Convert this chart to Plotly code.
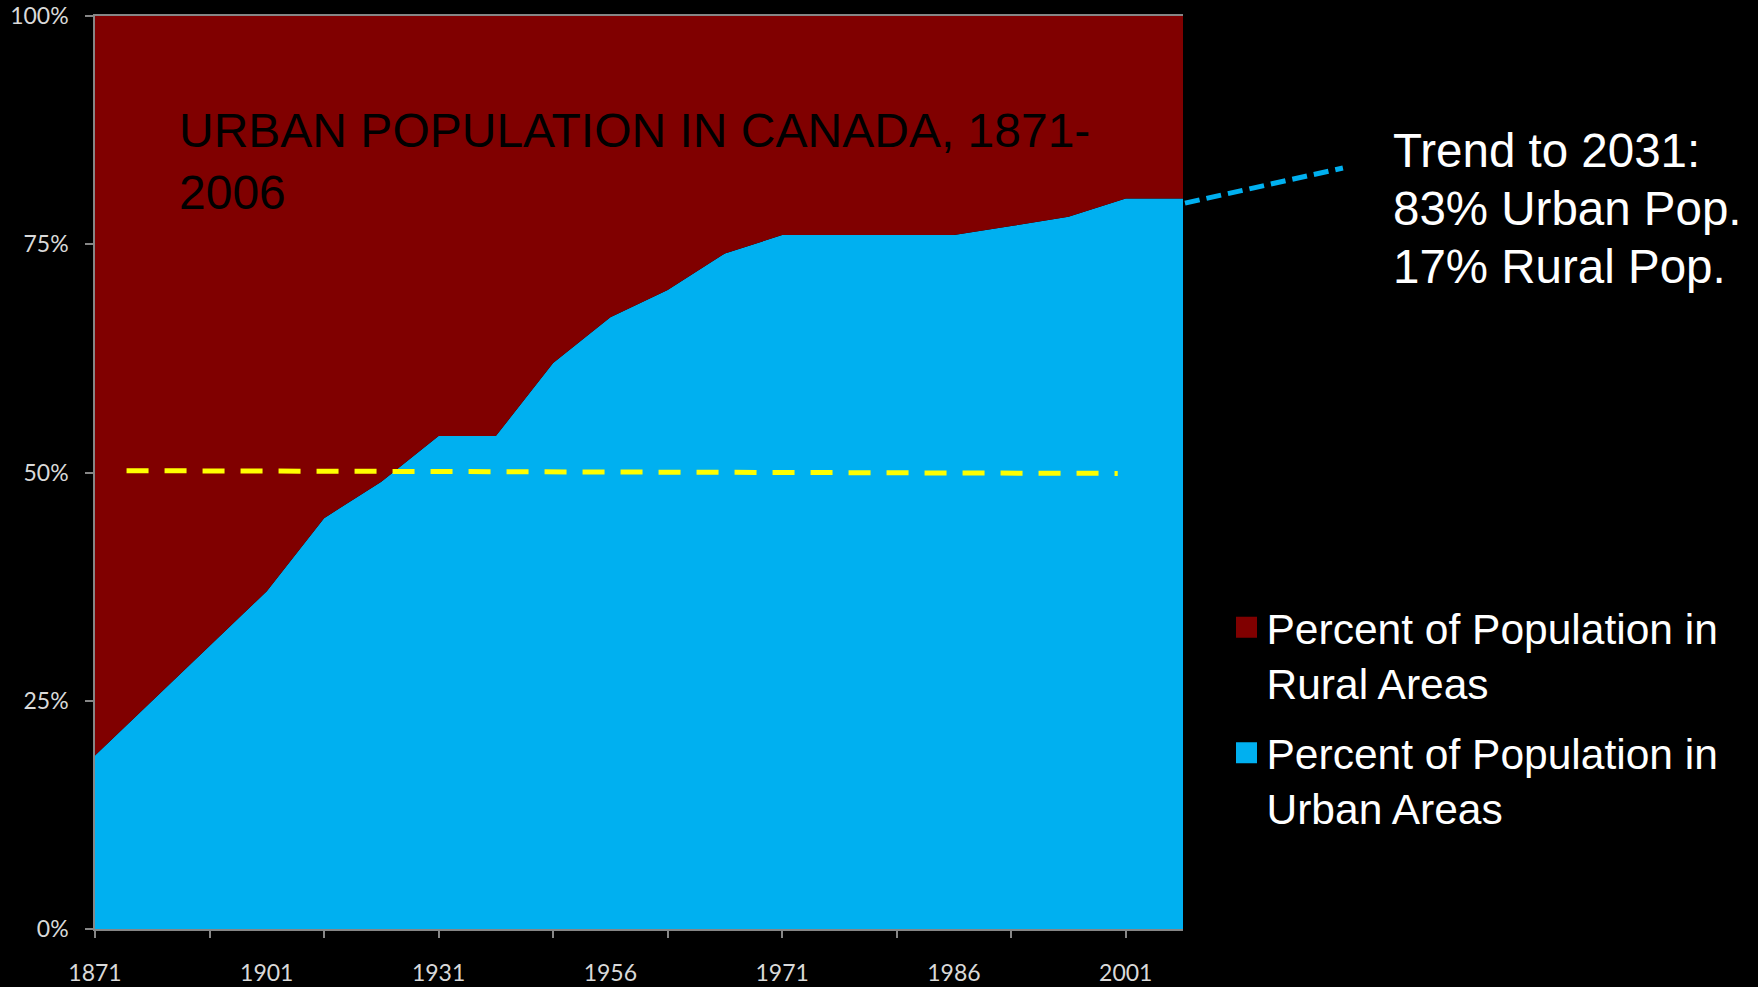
import plotly.graph_objects as go

years = ["1871", "1881", "1891", "1901", "1911", "1921", "1931", "1941", "1951", "1956",
         "1961", "1966", "1971", "1976", "1981", "1986", "1991", "1996", "2001", "2006"]
urban_pct = [19, 25, 31, 37, 45, 49, 54, 54, 62, 67, 70, 74, 76, 76, 76, 76, 77, 78, 80, 80]
rural_pct = [81, 75, 69, 63, 55, 51, 46, 46, 38, 33, 30, 26, 24, 24, 24, 24, 23, 22, 20, 20]
label_years = years[::3]
tick_years = years[::2]
y_ticks = [0, 25, 50, 75, 100]
y_labels = ["0%", "25%", "50%", "75%", "100%"]
trend_lines = ["Trend to 2031:", "83% Urban Pop.", "17% Rural Pop."]

RURAL = "#800000"
URBAN = "#00B0F0"
AXIS = "#868686"
TICKFONT = dict(family="Lato", size=23, color="#D9D9D9")

fig = go.Figure()
fig.add_trace(go.Scatter(x=years, y=urban_pct, stackgroup="one", mode="none",
                         fillcolor=URBAN, name="Percent of Population in<br>Urban Areas",
                         showlegend=False, hoverinfo="x+y"))
fig.add_trace(go.Scatter(x=years, y=rural_pct, stackgroup="one", mode="none",
                         fillcolor=RURAL, name="Percent of Population in<br>Rural Areas",
                         showlegend=False, hoverinfo="x+y"))
# legend entries
fig.add_trace(go.Scatter(x=[years[0]], y=[None], mode="markers", legendgroup="r",
                         name="Percent of Population in<br>Rural Areas",
                         marker=dict(symbol="square", size=16, color=RURAL,
                                     line=dict(color=RURAL, width=5))))
fig.add_trace(go.Scatter(x=[years[0]], y=[None], mode="markers", legendgroup="u",
                         name="Percent of Population in<br>Urban Areas",
                         marker=dict(symbol="square", size=16, color=URBAN,
                                     line=dict(color=URBAN, width=5))))
# invisible trace for the tick-mark axis
fig.add_trace(go.Scatter(x=years, y=[None] * len(years), xaxis="x2", mode="lines",
                         showlegend=False, hoverinfo="skip"))

fig.update_layout(
    width=1758, height=987,
    margin=dict(l=95, r=575, t=16, b=58, autoexpand=False),
    paper_bgcolor="black", plot_bgcolor="black",
    font=dict(family="Liberation Sans", color="white"),
    xaxis=dict(type="category", categoryorder="array", categoryarray=years,
               range=[0, len(years) - 1], tickvals=label_years, ticktext=label_years,
               ticks="", showgrid=False, zeroline=False, showline=True,
               linecolor=AXIS, linewidth=1.5, mirror=True, tickfont=TICKFONT,
               ticklabelstandoff=23, layer="above traces", automargin=False),
    xaxis2=dict(type="category", categoryorder="array", categoryarray=years,
                range=[0, len(years) - 1], overlaying="x", anchor="y", side="bottom",
                tickvals=tick_years, ticks="outside", ticklen=8, tickcolor=AXIS,
                tickwidth=1.5, showticklabels=False, showgrid=False, zeroline=False,
                showline=False, automargin=False),
    yaxis=dict(range=[0, 100], tickvals=y_ticks, ticktext=y_labels, ticks="outside",
               ticklen=8, tickcolor=AXIS, tickwidth=1.5, showline=True, linecolor=AXIS,
               linewidth=1.5, showgrid=False, zeroline=False, tickfont=TICKFONT,
               ticklabelstandoff=12, layer="above traces", automargin=False),
    legend=dict(x=1.040, y=0.368, xanchor="left", yanchor="top", valign="top",
                traceorder="grouped", tracegroupgap=12,
                font=dict(family="Liberation Sans", size=42.5, color="white"),
                bgcolor="rgba(0,0,0,0)", itemwidth=30),
    showlegend=True,
)

fig.add_annotation(xref="paper", yref="paper", x=0.0756, y=0.9057, xanchor="left", yanchor="top",
                   text="URBAN POPULATION IN CANADA, 1871-<br>2006", showarrow=False, align="left",
                   font=dict(family="Liberation Sans", size=48, color="black"))
for line, ypos in zip(trend_lines, [0.8843, 0.8208, 0.7572]):
    fig.add_annotation(xref="paper", yref="paper", x=1.1909, y=ypos, xanchor="left",
                       yanchor="top", text=line, showarrow=False, align="left",
                       font=dict(family="Liberation Sans", size=47.5, color="white"))

fig.add_shape(type="line", xref="paper", yref="y", x0=0.029, x1=0.94, y0=50.2, y1=49.9,
              line=dict(color="#FFFF00", width=5, dash="22px,16px"))
fig.add_shape(type="line", xref="paper", yref="paper", x0=1.0018, x1=1.147, y0=0.795, y1=0.8335,
              line=dict(color=URBAN, width=5, dash="15px,7px"))

fig.write_html("out.html", config={"displayModeBar": False},
               post_script="document.body.style.margin='0';document.body.style.overflow='hidden';document.body.style.background='black';")
